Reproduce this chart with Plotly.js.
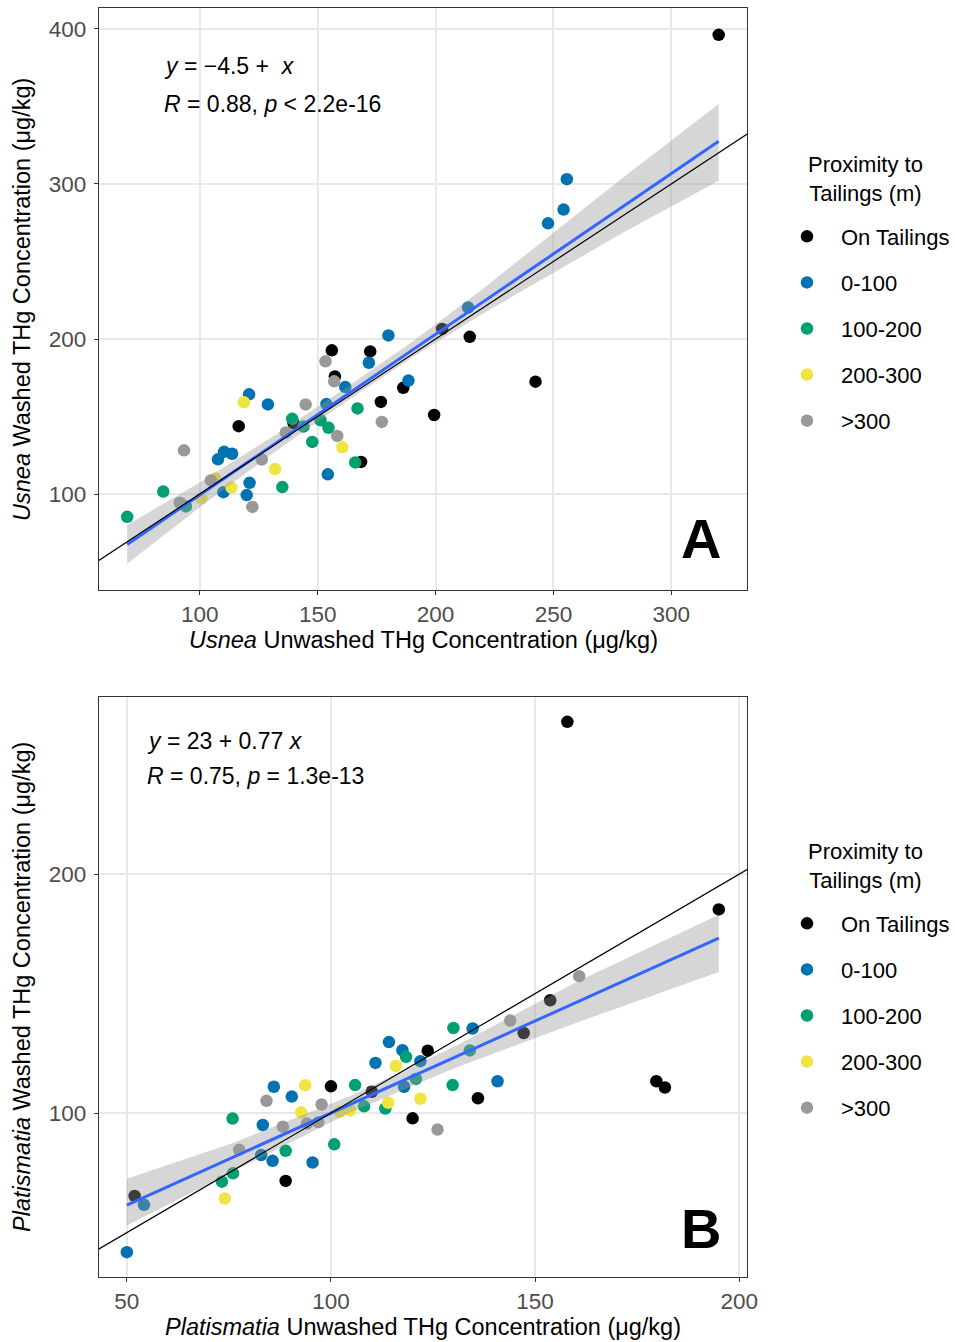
<!DOCTYPE html>
<html>
<head>
<meta charset="utf-8">
<script src="https://cdn.plot.ly/plotly-3.0.1.min.js"></script>
<style>html,body{margin:0;padding:0;background:#fff;}#chart{width:955px;height:1342px;}</style>
</head>
<body>
<div id="chart"></div>
<script>
// ---------- categories ----------
const categories = ['On Tailings', '0-100', '100-200', '200-300', '>300'];
const categoryColors = ['#000000', '#0072B2', '#009E73', '#F0E442', '#999999'];
const legendTitle = 'Proximity to<br>Tailings (m)';

// ---------- Panel A: Usnea ----------
const usneaOnTailingsX = [320.1, 156.0, 172.3, 157.3, 214.5, 242.4, 186.3, 176.8, 199.4, 116.5, 139.8, 168.4, 202.8];
const usneaOnTailingsY = [396.2, 192.7, 192.0, 175.8, 201.4, 172.5, 168.5, 159.4, 151.0, 143.8, 145.6, 120.7, 206.5];
const usnea0to100X = [255.7, 254.3, 247.7, 213.8, 180.0, 171.7, 188.5, 161.7, 120.9, 128.9, 153.7, 107.7, 110.3, 113.7, 121.1, 119.9, 110.0, 154.3];
const usnea0to100Y = [303.1, 283.5, 274.6, 220.3, 202.3, 184.7, 173.2, 169.0, 164.3, 157.8, 158.0, 122.4, 127.2, 126.0, 107.2, 99.3, 101.2, 112.7];
const usnea100to200X = [69.2, 84.5, 94.1, 135.0, 147.7, 139.2, 151.2, 154.6, 166.9, 165.9, 144.0];
const usnea100to200Y = [85.3, 101.6, 92.0, 104.5, 133.6, 148.5, 147.6, 142.7, 155.2, 120.4, 143.5];
const usnea200to300X = [118.7, 131.9, 160.5, 113.4, 100.6, 106.5];
const usnea200to300Y = [159.2, 116.1, 130.1, 104.2, 97.3, 110.0];
const usneaOver300X = [93.3, 153.3, 157.0, 144.9, 158.3, 177.2, 126.3, 122.3, 104.7, 136.5, 91.5];
const usneaOver300Y = [128.2, 185.6, 172.7, 157.8, 137.5, 146.5, 122.2, 91.7, 108.8, 139.7, 94.4];

const usneaFitX = [69.2, 320.1];
const usneaFitY = [67.5, 327.5];
const usneaBandX = [69.2, 100, 130, 160, 190, 220, 250, 280, 320.1];
const usneaBandLow = [55, 91.5, 125.2, 157.4, 188.1, 216.3, 242.5, 269, 302];
const usneaBandHigh = [80, 107.5, 136.2, 166.4, 198.1, 232.3, 268.5, 304.7, 351.5];

// ---------- Panel B: Platismatia ----------
const platOnTailingsX = [157.9, 195.0, 153.7, 147.2, 123.7, 179.7, 181.8, 100.0, 136.0, 120.0, 88.9, 51.9, 110.0];
const platOnTailingsY = [263.7, 185.2, 147.2, 133.5, 126.1, 113.3, 110.7, 111.2, 106.2, 97.8, 71.6, 65.3, 108.9];
const plat0to100X = [50.0, 54.2, 86.0, 90.4, 83.3, 82.9, 85.7, 95.5, 110.9, 114.2, 117.5, 121.9, 134.7, 140.8, 117.9];
const plat0to100Y = [41.8, 61.6, 111.0, 106.9, 95.0, 82.4, 80.0, 79.3, 121.0, 129.7, 126.3, 121.7, 135.4, 113.3, 111.0];
const plat100to200X = [75.9, 73.3, 76.0, 88.9, 100.8, 105.9, 118.4, 130.0, 129.8, 134.0, 113.3, 120.8, 108.1];
const plat100to200Y = [97.7, 71.3, 74.8, 84.2, 86.9, 111.7, 123.5, 135.6, 111.7, 126.2, 101.9, 114.3, 102.8];
const plat200to300X = [74.0, 93.7, 92.7, 115.9, 121.9, 114.0, 104.7, 102.1];
const plat200to300Y = [64.2, 111.6, 100.3, 119.7, 106.0, 104.3, 101.1, 100.5];
const platOver300X = [160.8, 143.9, 84.2, 97.7, 88.2, 126.1, 77.5, 96.9, 94.1];
const platOver300Y = [157.3, 138.7, 105.1, 103.6, 94.3, 93.1, 84.6, 96.2, 95.6];

const platFitX = [50.0, 195.0];
const platFitY = [61.5, 173.2];
const platBandX = [50.0, 76, 105, 130, 160, 195.0];
const platBandLow = [53, 75.5, 100.4, 118.6, 137.7, 159];
const platBandHigh = [72.5, 87.5, 107.4, 127.6, 154.7, 183];

// 1:1 reference line
const identityX = [0, 450];
const identityY = [0, 450];

// tick labels
const usneaXTicks = [100, 150, 200, 250, 300];
const usneaYTicks = [100, 200, 300, 400];
const platXTicks = [50, 100, 150, 200];
const platYTicks = [100, 200];

// ---------- build traces ----------
const FONT = 'Liberation Sans, Arial, Helvetica, sans-serif';
const traces = [];

function addPanel(xs, ys, fitX, fitY, bandX, bandLow, bandHigh, xa, ya, legendId, groupPrefix) {
  for (let i = 0; i < categories.length; i++) {
    traces.push({
      type: 'scatter', mode: 'markers',
      x: xs[i], y: ys[i],
      xaxis: xa, yaxis: ya,
      name: categories[i],
      legend: legendId,
      legendgroup: groupPrefix + i,
      marker: {color: categoryColors[i], size: 12.5, line: {width: 0}},
      hoverinfo: 'x+y+name'
    });
  }
  traces.push({
    type: 'scatter', mode: 'lines',
    x: bandX.concat(bandX.slice().reverse()),
    y: bandHigh.concat(bandLow.slice().reverse()),
    xaxis: xa, yaxis: ya,
    fill: 'toself', fillcolor: 'rgba(153,153,153,0.4)',
    line: {width: 0}, showlegend: false, hoverinfo: 'skip'
  });
  traces.push({
    type: 'scatter', mode: 'lines',
    x: fitX, y: fitY, xaxis: xa, yaxis: ya,
    line: {color: '#3366FF', width: 3}, showlegend: false, hoverinfo: 'skip'
  });
  traces.push({
    type: 'scatter', mode: 'lines',
    x: identityX, y: identityY, xaxis: xa, yaxis: ya,
    line: {color: '#000000', width: 1.2}, showlegend: false, hoverinfo: 'skip'
  });
}

addPanel(
  [usneaOnTailingsX, usnea0to100X, usnea100to200X, usnea200to300X, usneaOver300X],
  [usneaOnTailingsY, usnea0to100Y, usnea100to200Y, usnea200to300Y, usneaOver300Y],
  usneaFitX, usneaFitY, usneaBandX, usneaBandLow, usneaBandHigh, 'x', 'y', 'legend', 'a');
addPanel(
  [platOnTailingsX, plat0to100X, plat100to200X, plat200to300X, platOver300X],
  [platOnTailingsY, plat0to100Y, plat100to200Y, plat200to300Y, platOver300Y],
  platFitX, platFitY, platBandX, platBandLow, platBandHigh, 'x2', 'y2', 'legend2', 'b');

// ---------- layout ----------
const W = 955, H = 1342;
const px = v => v / W;
const py = v => 1 - v / H;
const TICK_SIZE = 22.5, TITLE_SIZE = 23.5, LEGEND_SIZE = 22, NOTE_SIZE = 23;

function axisStyle(extra) {
  return Object.assign({
    showline: true, mirror: true, linecolor: '#333333', linewidth: 1,
    ticks: 'outside', ticklen: 4, tickwidth: 1, tickcolor: '#333333',
    showgrid: true, gridcolor: '#E8E8E8', gridwidth: 1.6,
    zeroline: false, tickmode: 'array',
    tickfont: {family: FONT, size: TICK_SIZE, color: '#4D4D4D'},
    fixedrange: true
  }, extra);
}

const legendStyle = {
  xanchor: 'left', yanchor: 'top',
  font: {family: FONT, size: LEGEND_SIZE, color: '#000000'},
  tracegroupgap: 14.5, bgcolor: 'rgba(0,0,0,0)', borderwidth: 0, itemwidth: 58
};

function note(x, y, text, size, extra) {
  return Object.assign({xref: 'paper', yref: 'paper', x: px(x), y: py(y), xanchor: 'left', yanchor: 'middle',
    showarrow: false, text: text, font: {family: FONT, size: size, color: '#000'}}, extra || {});
}

const layout = {
  width: W, height: H,
  margin: {l: 0, r: 0, t: 0, b: 0},
  paper_bgcolor: '#FFFFFF', plot_bgcolor: '#FFFFFF',
  font: {family: FONT, size: 21, color: '#000000'},
  xaxis: axisStyle({domain: [px(99), px(748)], anchor: 'y', range: [57.2, 332.2], tickvals: usneaXTicks, ticklabelstandoff: 0}),
  yaxis: axisStyle({domain: [py(590), py(8)], anchor: 'x', range: [38.1, 413.5], tickvals: usneaYTicks, ticklabelstandoff: 3}),
  xaxis2: axisStyle({domain: [px(99), px(748)], anchor: 'y2', range: [43.15, 201.96], tickvals: platXTicks, ticklabelstandoff: 0}),
  yaxis2: axisStyle({domain: [py(1277), py(697)], anchor: 'x2', range: [31.4, 274.1], tickvals: platYTicks, ticklabelstandoff: 3}),
  legend: Object.assign({}, legendStyle, {x: px(774), y: py(215.5)}),
  legend2: Object.assign({}, legendStyle, {x: px(774), y: py(902.5)}),
  showlegend: true,
  annotations: [
    note(423.5, 640, '<i>Usnea</i> Unwashed THg Concentration (μg/kg)', TITLE_SIZE, {xanchor: 'center'}),
    note(22, 299, '<i>Usnea</i> Washed THg Concentration (μg/kg)', TITLE_SIZE, {xanchor: 'center', textangle: -90}),
    note(423.5, 1327, '<i>Platismatia</i> Unwashed THg Concentration (μg/kg)', TITLE_SIZE, {xanchor: 'center'}),
    note(22, 987, '<i>Platismatia</i> Washed THg Concentration (μg/kg)', TITLE_SIZE, {xanchor: 'center', textangle: -90}),
    note(162, 66, '<i>y</i> = −4.5 +  <i>x</i>', NOTE_SIZE),
    note(162, 104, '<i>R</i> = 0.88, <i>p</i> < 2.2e-16', NOTE_SIZE),
    note(145, 741, '<i>y</i> = 23 + 0.77 <i>x</i>', NOTE_SIZE),
    note(145, 776, '<i>R</i> = 0.75, <i>p</i> = 1.3e-13', NOTE_SIZE),
    note(702, 538, '<b>A</b>', 56, {xanchor: 'center'}),
    note(702, 1228, '<b>B</b>', 56, {xanchor: 'center'}),
    note(866, 179, legendTitle, LEGEND_SIZE, {xanchor: 'center', align: 'center'}),
    note(866, 866, legendTitle, LEGEND_SIZE, {xanchor: 'center', align: 'center'})
  ]
};

Plotly.newPlot('chart', traces, layout, {displayModeBar: false});
</script>
</body>
</html>
